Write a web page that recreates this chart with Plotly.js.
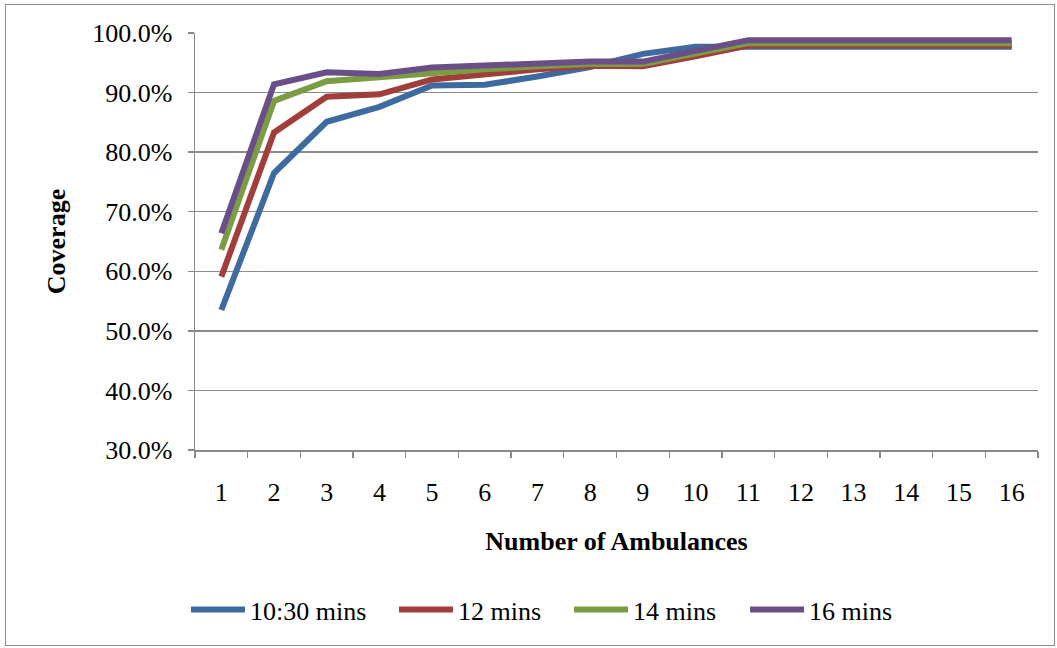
<!DOCTYPE html>
<html>
<head>
<meta charset="utf-8">
<script src="https://cdn.plot.ly/plotly-3.0.1.min.js"></script>
<style>
  html, body { margin: 0; padding: 0; background: #fff; }
  #chart { position: absolute; left: 0; top: 0; width: 1057px; height: 648px; }
  #frame { position: absolute; left: 5px; top: 4px; width: 1048px; height: 640px; border: 1px solid #8c8c8c; pointer-events: none; }
</style>
</head>
<body>
<div id="chart"></div>
<div id="frame"></div>
<script>
const categories = ["1","2","3","4","5","6","7","8","9","10","11","12","13","14","15","16"];
const seriesNames = ["10:30 mins", "12 mins", "14 mins", "16 mins"];
const cov1030 = [53.5, 76.5, 85.1, 87.6, 91.2, 91.3, 92.7, 94.3, 96.5, 97.7, 97.7, 97.7, 97.7, 97.7, 97.7, 97.7];
const cov12   = [59.1, 83.3, 89.3, 89.7, 92.2, 93.1, 93.9, 94.5, 94.4, 96.1, 97.9, 97.9, 97.9, 97.9, 97.9, 97.9];
const cov14   = [63.6, 88.6, 91.9, 92.6, 93.4, 93.9, 94.4, 94.8, 94.8, 96.6, 98.3, 98.3, 98.3, 98.3, 98.3, 98.3];
const cov16   = [66.4, 91.4, 93.4, 93.1, 94.2, 94.5, 94.8, 95.2, 95.2, 97.0, 98.8, 98.8, 98.8, 98.8, 98.8, 98.8];
const yTicks = [30, 40, 50, 60, 70, 80, 90, 100];

const colors = ["#3d6b9f", "#a13e3b", "#7c9c43", "#6a4e88"];
const allSeries = [cov1030, cov12, cov14, cov16];
const legendIds = ["legend", "legend2", "legend3", "legend4"];

const traces = allSeries.map((vals, i) => ({
  type: "scatter",
  mode: "lines",
  x: categories,
  y: vals,
  name: seriesNames[i],
  legend: legendIds[i],
  line: { color: colors[i], width: 6 },
  hoverinfo: "x+y+name"
}));

const fam = "'Liberation Serif', 'Times New Roman', Times, serif";
const f = (size) => ({ family: fam, size: size, color: "#000" });

const layout = {
  width: 1057,
  height: 648,
  paper_bgcolor: "#fff",
  plot_bgcolor: "#fff",
  margin: { l: 195, r: 19, t: 33, b: 198 },
  showlegend: true,
  font: f(26),
  xaxis: {
    type: "category",
    range: [-0.5, 15.5],
    tickson: "boundaries",
    ticks: "outside",
    ticklen: 6,
    tickcolor: "#888",
    tickwidth: 1.3,
    showline: true,
    linecolor: "#888",
    linewidth: 1.5,
    showgrid: false,
    zeroline: false,
    tickfont: f(26),
    ticklabelstandoff: 18,
    title: { text: "<b>Number of Ambulances</b>", font: f(26), standoff: 26 },
    fixedrange: true
  },
  yaxis: {
    range: [30, 100],
    tickvals: yTicks,
    ticktext: yTicks.map(v => v.toFixed(1) + "%"),
    ticks: "outside",
    ticklen: 6,
    tickcolor: "#888",
    tickwidth: 1.3,
    showline: true,
    linecolor: "#888",
    linewidth: 1.5,
    showgrid: true,
    gridcolor: "#8a8a8a",
    gridwidth: 1.5,
    zeroline: false,
    tickfont: f(26),
    ticklabelstandoff: 10,
    title: { text: "<b>Coverage</b>", font: f(26), standoff: 19 },
    fixedrange: true
  }
};

const legendX = [-0.0107, 0.2361, 0.4437, 0.6525];
legendIds.forEach((id, i) => {
  layout[id] = {
    orientation: "h",
    x: legendX[i],
    xanchor: "left",
    y: -0.383,
    yanchor: "middle",
    font: f(26),
    itemwidth: 54,
    bgcolor: "rgba(0,0,0,0)"
  };
});

Plotly.newPlot("chart", traces, layout, { displayModeBar: false, staticPlot: true });
</script>
</body>
</html>
